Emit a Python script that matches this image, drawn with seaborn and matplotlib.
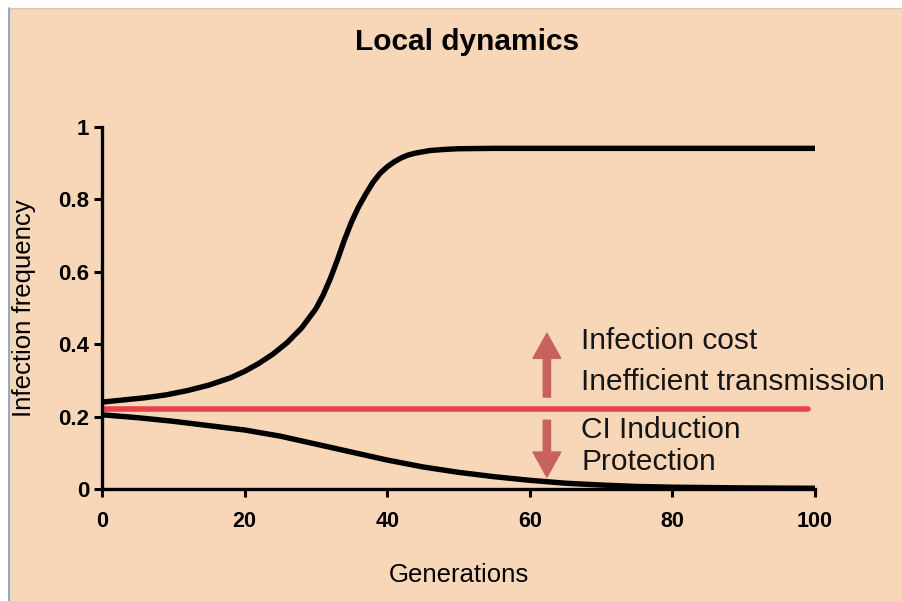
import numpy as np
import pandas as pd
import matplotlib
matplotlib.use("Agg")
import matplotlib.pyplot as plt
import seaborn as sns
from matplotlib.patches import Rectangle
from matplotlib.lines import Line2D

# ---------- DATA ----------
gens_up = [0, 3, 6, 9, 12, 15, 18, 20, 22, 24, 26, 28, 30, 31, 32, 33, 34, 35, 36, 37,
           38, 39, 40, 41, 42, 43, 44, 46, 48, 50, 55, 100]
freq_up = [0.240, 0.246, 0.252, 0.260, 0.272, 0.287, 0.307, 0.325, 0.347, 0.373, 0.405,
           0.445, 0.498, 0.535, 0.580, 0.632, 0.688, 0.738, 0.780, 0.815, 0.847, 0.872,
           0.890, 0.904, 0.915, 0.923, 0.928, 0.935, 0.938, 0.940, 0.941, 0.941]

gens_down = [0, 5, 10, 15, 20, 25, 30, 35, 40, 45, 50, 55, 60, 65, 70, 75, 80, 90, 100]
freq_down = [0.205, 0.197, 0.187, 0.175, 0.163, 0.146, 0.124, 0.102, 0.080, 0.061, 0.046,
             0.034, 0.024, 0.016, 0.011, 0.007, 0.005, 0.003, 0.002]

gens_eq = [0, 99]
freq_eq = [0.221, 0.221]

x_ticks = [0, 20, 40, 60, 80, 100]
y_ticks = [0, 0.2, 0.4, 0.6, 0.8, 1.0]
y_tick_labels = ["0", "0.2", "0.4", "0.6", "0.8", "1"]

arrow_x = 62.4
arrow_up = (0.254, 0.43)
arrow_down = (0.19, 0.033)
notes = ["Infection cost", "Inefficient transmission", "CI Induction", "Protection"]
notes_y = [0.41, 0.295, 0.163, 0.074]

df_up = pd.DataFrame({"gen": gens_up, "freq": freq_up})
df_down = pd.DataFrame({"gen": gens_down, "freq": freq_down})
df_eq = pd.DataFrame({"gen": gens_eq, "freq": freq_eq})

# ---------- STYLE ----------
sns.set_style("ticks")
plt.rcParams["font.family"] = ["Liberation Sans", "DejaVu Sans"]
plt.rcParams["text.color"] = "black"
plt.rcParams["axes.labelcolor"] = "black"
plt.rcParams["xtick.color"] = "black"
plt.rcParams["ytick.color"] = "black"

PEACH = "#F8D7B9"
fig = plt.figure(figsize=(9.03, 6.01), dpi=100, facecolor="white")
fig.patches.append(Rectangle((9 / 903, 0), 1, 1 - 8 / 601, transform=fig.transFigure,
                             facecolor=PEACH, edgecolor="none", zorder=-10))
fig.lines.append(Line2D([8.5 / 903, 8.5 / 903], [0, 1 - 8 / 601], transform=fig.transFigure,
                        color="#7B9BD1", lw=1.2, zorder=-5))
fig.lines.append(Line2D([9 / 903, 1], [1 - 8 / 601, 1 - 8 / 601], transform=fig.transFigure,
                        color="#CFC4B8", lw=0.8, zorder=-5))

ax = fig.add_axes([102 / 903, 112 / 601, 713 / 903, 362 / 601])
ax.set_facecolor("none")

sns.lineplot(data=df_up, x="gen", y="freq", color="black", lw=3.9, ax=ax,
             solid_capstyle="round", solid_joinstyle="round")
sns.lineplot(data=df_down, x="gen", y="freq", color="black", lw=3.9, ax=ax,
             solid_capstyle="round", solid_joinstyle="round")
sns.lineplot(data=df_eq, x="gen", y="freq", color="#E8434A", lw=4.0, ax=ax,
             solid_capstyle="round")

ARROW = "#C8625F"
style = "simple,head_width=1.0,head_length=0.9,tail_width=0.26"
ax.annotate("", xy=(arrow_x, arrow_up[1]), xytext=(arrow_x, arrow_up[0]),
            arrowprops=dict(arrowstyle=style, color=ARROW, shrinkA=0, shrinkB=0,
                            mutation_scale=20))
ax.annotate("", xy=(arrow_x, arrow_down[1]), xytext=(arrow_x, arrow_down[0]),
            arrowprops=dict(arrowstyle=style, color=ARROW, shrinkA=0, shrinkB=0,
                            mutation_scale=20))

for txt, yy in zip(notes, notes_y):
    ax.text(67.2, yy, txt, fontsize=21.5, color="#151515", va="center", ha="left")

ax.set_xlim(0, 100)
ax.set_ylim(0, 1)
ax.set_xticks(x_ticks)
ax.set_xticklabels([str(v) for v in x_ticks], fontsize=15.5, fontweight="bold")
ax.set_yticks(y_ticks)
ax.set_yticklabels(y_tick_labels, fontsize=16, fontweight="bold")
ax.tick_params(axis="both", direction="out", length=6, width=2.2, color="black")
ax.tick_params(axis="x", pad=10)
ax.tick_params(axis="y", pad=3)

for side in ["top", "right"]:
    ax.spines[side].set_visible(False)
for side in ["left", "bottom"]:
    ax.spines[side].set_linewidth(2.4)
    ax.spines[side].set_color("black")
    ax.spines[side].set_capstyle("projecting")

ax.set_xlabel("Generations", fontsize=18.5, labelpad=22)
ax.set_ylabel("Infection frequency", fontsize=18.5, labelpad=16)
fig.text(467 / 903, 1 - 42 / 601, "Local dynamics", fontsize=21.5, fontweight="bold",
         ha="center", va="center")

fig.savefig("out.png", dpi=100)
plt.close()
